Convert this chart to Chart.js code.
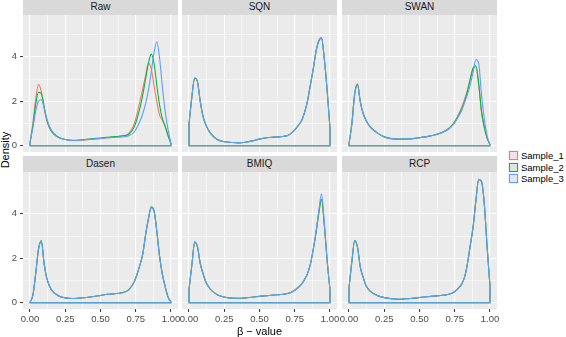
<!DOCTYPE html>
<html>
<head>
<meta charset="utf-8">
<script src="https://cdn.jsdelivr.net/npm/chart.js@4.4.1/dist/chart.umd.min.js"></script>
<style>
  body { margin: 0; background: #fff; font-family: "Liberation Sans", Arial, sans-serif; }
  #wrap { position: relative; width: 566px; height: 337px; overflow: hidden; }
  #wrap canvas { position: absolute; }
  .strip { position: absolute; width: 155px; height: 16px; background: #d9d9d9; color: #1a1a1a;
           font-size: 10px; line-height: 16px; text-align: center; }
  .ytitle { position: absolute; left: -25px; top: 144px; width: 60px; height: 12px; line-height: 12px;
            font-size: 11px; text-align: center; transform: rotate(-90deg); color: #000; }
  .legend { position: absolute; left: 508px; top: 150px; }
  .legend .row { height: 11.5px; display: flex; align-items: center; }
  .legend .key { width: 11px; height: 11px; background: #f2f2f2; position: relative; }
  .legend .key span { position: absolute; left: 1px; top: 1px; right: 1px; bottom: 1px; border: 1px solid; box-sizing: border-box; }
  .legend .lab { font-size: 9.5px; margin-left: 2px; color: #000; }
</style>
</head>
<body>
<div id="wrap">
  <div class="ytitle">Density</div>
  <div class="legend" id="legend"></div>
</div>
<script>
// beta-value grid the densities were read at
const betaGrid = [0, 0.02, 0.04, 0.06, 0.08, 0.1, 0.12, 0.15, 0.2, 0.25, 0.3, 0.35, 0.4, 0.45, 0.5,
  0.55, 0.6, 0.65, 0.7, 0.74, 0.78, 0.8, 0.82, 0.84, 0.86, 0.88, 0.9, 0.92, 0.94, 0.96, 0.98, 1.0];

// Raw
const rawS1 = [0.15, 1.0, 2.1, 2.75, 2.45, 1.7, 1.1, 0.65, 0.38, 0.28, 0.24, 0.24, 0.26, 0.3, 0.33,
  0.36, 0.4, 0.45, 0.55, 1.0, 2.0, 2.57, 3.16, 3.72, 3.46, 2.7, 1.97, 1.37, 1.15, 0.85, 0.45, 0.1];
const rawS2 = [0.15, 0.9, 1.85, 2.4, 2.35, 1.75, 1.15, 0.68, 0.38, 0.28, 0.25, 0.26, 0.29, 0.32, 0.35,
  0.38, 0.41, 0.44, 0.52, 0.85, 1.7, 2.3, 3.0, 3.7, 4.12, 3.7, 2.7, 1.8, 1.2, 0.85, 0.45, 0.1];
const rawS3 = [0.15, 0.8, 1.55, 2.0, 2.07, 1.7, 1.2, 0.72, 0.4, 0.28, 0.24, 0.25, 0.28, 0.3, 0.33,
  0.36, 0.38, 0.4, 0.45, 0.62, 1.1, 1.45, 1.9, 2.5, 3.3, 4.2, 4.68, 3.9, 2.6, 1.5, 0.7, 0.13];
// SQN (all samples identical)
const sqnAll = [1.0, 2.2, 3.05, 2.87, 1.97, 1.3, 0.93, 0.58, 0.28, 0.18, 0.15, 0.13, 0.16, 0.22, 0.3,
  0.36, 0.39, 0.41, 0.46, 0.65, 0.95, 1.15, 1.5, 2.0, 2.7, 3.4, 4.2, 4.7, 4.85, 3.9, 2.5, 0.8];
// SWAN
const swanS1 = [0.1, 1.0, 2.35, 2.8, 1.97, 1.45, 1.15, 0.85, 0.58, 0.4, 0.32, 0.3, 0.3, 0.32, 0.36,
  0.41, 0.47, 0.57, 0.75, 1.0, 1.45, 1.75, 2.1, 2.5, 3.0, 3.45, 3.55, 2.75, 1.5, 0.8, 0.33, 0.05];
const swanS2 = [0.1, 1.0, 2.35, 2.75, 1.97, 1.45, 1.15, 0.85, 0.58, 0.4, 0.32, 0.3, 0.3, 0.32, 0.36,
  0.41, 0.47, 0.57, 0.73, 0.98, 1.4, 1.65, 2.0, 2.45, 3.0, 3.5, 3.6, 2.8, 1.55, 0.85, 0.35, 0.05];
const swanS3 = [0.1, 0.95, 2.3, 2.72, 1.97, 1.45, 1.15, 0.85, 0.58, 0.4, 0.32, 0.3, 0.3, 0.32, 0.36,
  0.41, 0.47, 0.57, 0.72, 0.95, 1.35, 1.6, 1.95, 2.3, 2.75, 3.3, 3.88, 3.7, 2.3, 1.2, 0.45, 0.05];
// Dasen
const dasenS13 = [0.03, 0.33, 1.3, 2.4, 2.75, 1.75, 1.07, 0.6, 0.32, 0.22, 0.19, 0.21, 0.24, 0.28, 0.33,
  0.38, 0.41, 0.45, 0.58, 0.95, 1.7, 2.2, 3.05, 3.76, 4.28, 4.12, 3.2, 2.05, 1.25, 0.7, 0.25, 0.03];
const dasenS2 = [0.03, 0.33, 1.3, 2.42, 2.8, 1.77, 1.07, 0.6, 0.32, 0.22, 0.19, 0.21, 0.24, 0.28, 0.33,
  0.38, 0.41, 0.45, 0.58, 0.95, 1.7, 2.2, 3.05, 3.78, 4.32, 4.15, 3.2, 2.05, 1.25, 0.7, 0.25, 0.03];
// BMIQ
const bmiqS12 = [0.62, 1.7, 2.72, 2.5, 1.75, 1.3, 0.92, 0.62, 0.36, 0.26, 0.21, 0.2, 0.22, 0.25, 0.29,
  0.32, 0.35, 0.37, 0.42, 0.52, 0.72, 0.85, 1.05, 1.3, 1.7, 2.35, 3.1, 4.0, 4.65, 3.5, 1.9, 0.6];
const bmiqS3 = [0.62, 1.7, 2.75, 2.52, 1.75, 1.3, 0.92, 0.62, 0.36, 0.26, 0.21, 0.2, 0.22, 0.25, 0.29,
  0.32, 0.35, 0.37, 0.42, 0.52, 0.72, 0.85, 1.05, 1.3, 1.7, 2.35, 3.15, 4.1, 4.9, 3.6, 1.9, 0.6];
// RCP (all samples identical)
const rcpAll = [0.7, 1.85, 2.8, 2.5, 1.6, 1.15, 0.78, 0.52, 0.33, 0.23, 0.18, 0.16, 0.18, 0.2, 0.24,
  0.27, 0.3, 0.33, 0.37, 0.46, 0.68, 0.85, 1.15, 1.75, 2.57, 3.39, 4.58, 5.55, 5.45, 4.43, 2.5, 0.78];

const panelNames = ['Raw', 'SQN', 'SWAN', 'Dasen', 'BMIQ', 'RCP'];
const sampleNames = ['Sample_1', 'Sample_2', 'Sample_3'];
const panelSeries = [
  [rawS1, rawS2, rawS3],
  [sqnAll, sqnAll, sqnAll],
  [swanS1, swanS2, swanS3],
  [dasenS13, dasenS2, dasenS13],
  [bmiqS12, bmiqS12, bmiqS3],
  [rcpAll, rcpAll, rcpAll]
];
const xTicks = [0, 0.25, 0.5, 0.75, 1];
const yTicks = [0, 2, 4];
const yGrid = [0, 1, 2, 3, 4, 5];

const colors = ['#F8766D', '#00BA38', '#619CFF'];
const keyFills = ['rgba(248,118,109,0.12)', 'rgba(0,186,56,0.12)', 'rgba(97,156,255,0.12)'];

const colLeft = [23, 182, 342];
const rowTop = [15, 172];
const panelW = 155;
const panelH = 137;

// major ticks plus the minor lines half way between them
const xGrid = [];
xTicks.forEach((t, i) => {
  xGrid.push(t);
  if (i < xTicks.length - 1) xGrid.push((t + xTicks[i + 1]) / 2);
});
const isMajor = (list, v) => list.some(t => Math.abs(t - v) < 1e-9);

Chart.defaults.font.family = '"Liberation Sans", Arial, sans-serif';

const panelBg = {
  id: 'panelBg',
  beforeDraw(chart) {
    const { ctx, chartArea: a } = chart;
    ctx.save();
    ctx.fillStyle = '#EBEBEB';
    ctx.fillRect(a.left, a.top, a.right - a.left, a.bottom - a.top);
    ctx.restore();
  }
};

const wrap = document.getElementById('wrap');

function makePanel(p) {
  const col = p % 3, row = Math.floor(p / 3);
  const padL = col === 0 ? colLeft[0] : 12;
  const axisH = row === 1 ? 28 : 0;

  const strip = document.createElement('div');
  strip.className = 'strip';
  strip.style.left = colLeft[col] + 'px';
  strip.style.top = (rowTop[row] - 16) + 'px';
  strip.textContent = panelNames[p];
  wrap.appendChild(strip);

  const canvas = document.createElement('canvas');
  canvas.width = padL + panelW + 12;
  canvas.height = panelH + axisH;
  canvas.style.left = (colLeft[col] - padL) + 'px';
  canvas.style.top = rowTop[row] + 'px';
  wrap.appendChild(canvas);

  const datasets = [];
  panelSeries[p].forEach((vals, s) => {
    const last = vals.length - 1;
    datasets.push({
      label: sampleNames[s],
      data: vals.map((v, i) => ({ x: betaGrid[i], y: v })),
      borderColor: colors[s],
      borderWidth: 1.1,
      pointRadius: 0,
      fill: false,
      cubicInterpolationMode: 'monotone',
      order: 3 - s
    });
    // closing edges of the density polygon
    datasets.push({
      label: sampleNames[s] + ' edge',
      data: [
        { x: betaGrid[last], y: vals[last] }, { x: betaGrid[last], y: 0 },
        { x: betaGrid[0], y: 0 }, { x: betaGrid[0], y: vals[0] }
      ],
      borderColor: colors[s],
      borderWidth: 1.1,
      pointRadius: 0,
      fill: false,
      tension: 0,
      order: 3 - s
    });
  });

  new Chart(canvas, {
    type: 'line',
    data: { datasets },
    plugins: [panelBg],
    options: {
      responsive: false,
      animation: false,
      devicePixelRatio: 1,
      layout: { padding: { left: col === 0 ? 0 : 12, right: 12, top: 0, bottom: 0 }, autoPadding: false },
      plugins: { legend: { display: false }, tooltip: { enabled: false } },
      scales: {
        x: {
          type: 'linear',
          min: -0.05,
          max: 1.05,
          afterBuildTicks: s => { s.ticks = xGrid.map(v => ({ value: v })); },
          afterFit: s => { s.height = axisH; s.paddingLeft = 0; s.paddingRight = 0; },
          border: { display: false },
          grid: {
            color: '#FFFFFF',
            lineWidth: c => (c.tick && isMajor(xTicks, c.tick.value) ? 1.1 : 0.55),
            drawTicks: row === 1,
            tickLength: 3,
            tickColor: c => (c.tick && isMajor(xTicks, c.tick.value) ? '#333333' : 'rgba(0,0,0,0)'),
            tickWidth: 1
          },
          ticks: {
            display: row === 1,
            autoSkip: false,
            maxRotation: 0,
            padding: 2,
            color: '#4D4D4D',
            font: { size: 9.5 },
            callback: v => (isMajor(xTicks, v) ? v.toFixed(2) : '')
          },
          title: {
            display: p === 4,
            text: 'β − value',
            color: '#000000',
            padding: 0,
            font: { size: 11, lineHeight: 1 }
          }
        },
        y: {
          min: -0.28,
          max: 5.88,
          afterBuildTicks: s => { s.ticks = yGrid.map(v => ({ value: v })); },
          afterFit: s => { s.width = col === 0 ? padL : 0; s.paddingTop = 0; s.paddingBottom = 0; },
          border: { display: false },
          grid: {
            color: '#FFFFFF',
            lineWidth: c => (c.tick && isMajor(yTicks, c.tick.value) ? 1.1 : 0.55),
            drawTicks: col === 0,
            tickLength: 3,
            tickColor: c => (c.tick && isMajor(yTicks, c.tick.value) ? '#333333' : 'rgba(0,0,0,0)'),
            tickWidth: 1
          },
          ticks: {
            display: col === 0,
            autoSkip: false,
            padding: 3,
            color: '#4D4D4D',
            font: { size: 9.5 },
            callback: v => (isMajor(yTicks, v) ? String(v) : '')
          }
        }
      }
    }
  });
}

panelNames.forEach((name, p) => makePanel(p));

// legend
const legend = document.getElementById('legend');
sampleNames.forEach((name, s) => {
  const rowEl = document.createElement('div');
  rowEl.className = 'row';
  rowEl.innerHTML = '<div class="key"><span style="border-color:' + colors[s] +
    ';background:' + keyFills[s] + '"></span></div><div class="lab">' + name + '</div>';
  legend.appendChild(rowEl);
});
</script>
</body>
</html>
